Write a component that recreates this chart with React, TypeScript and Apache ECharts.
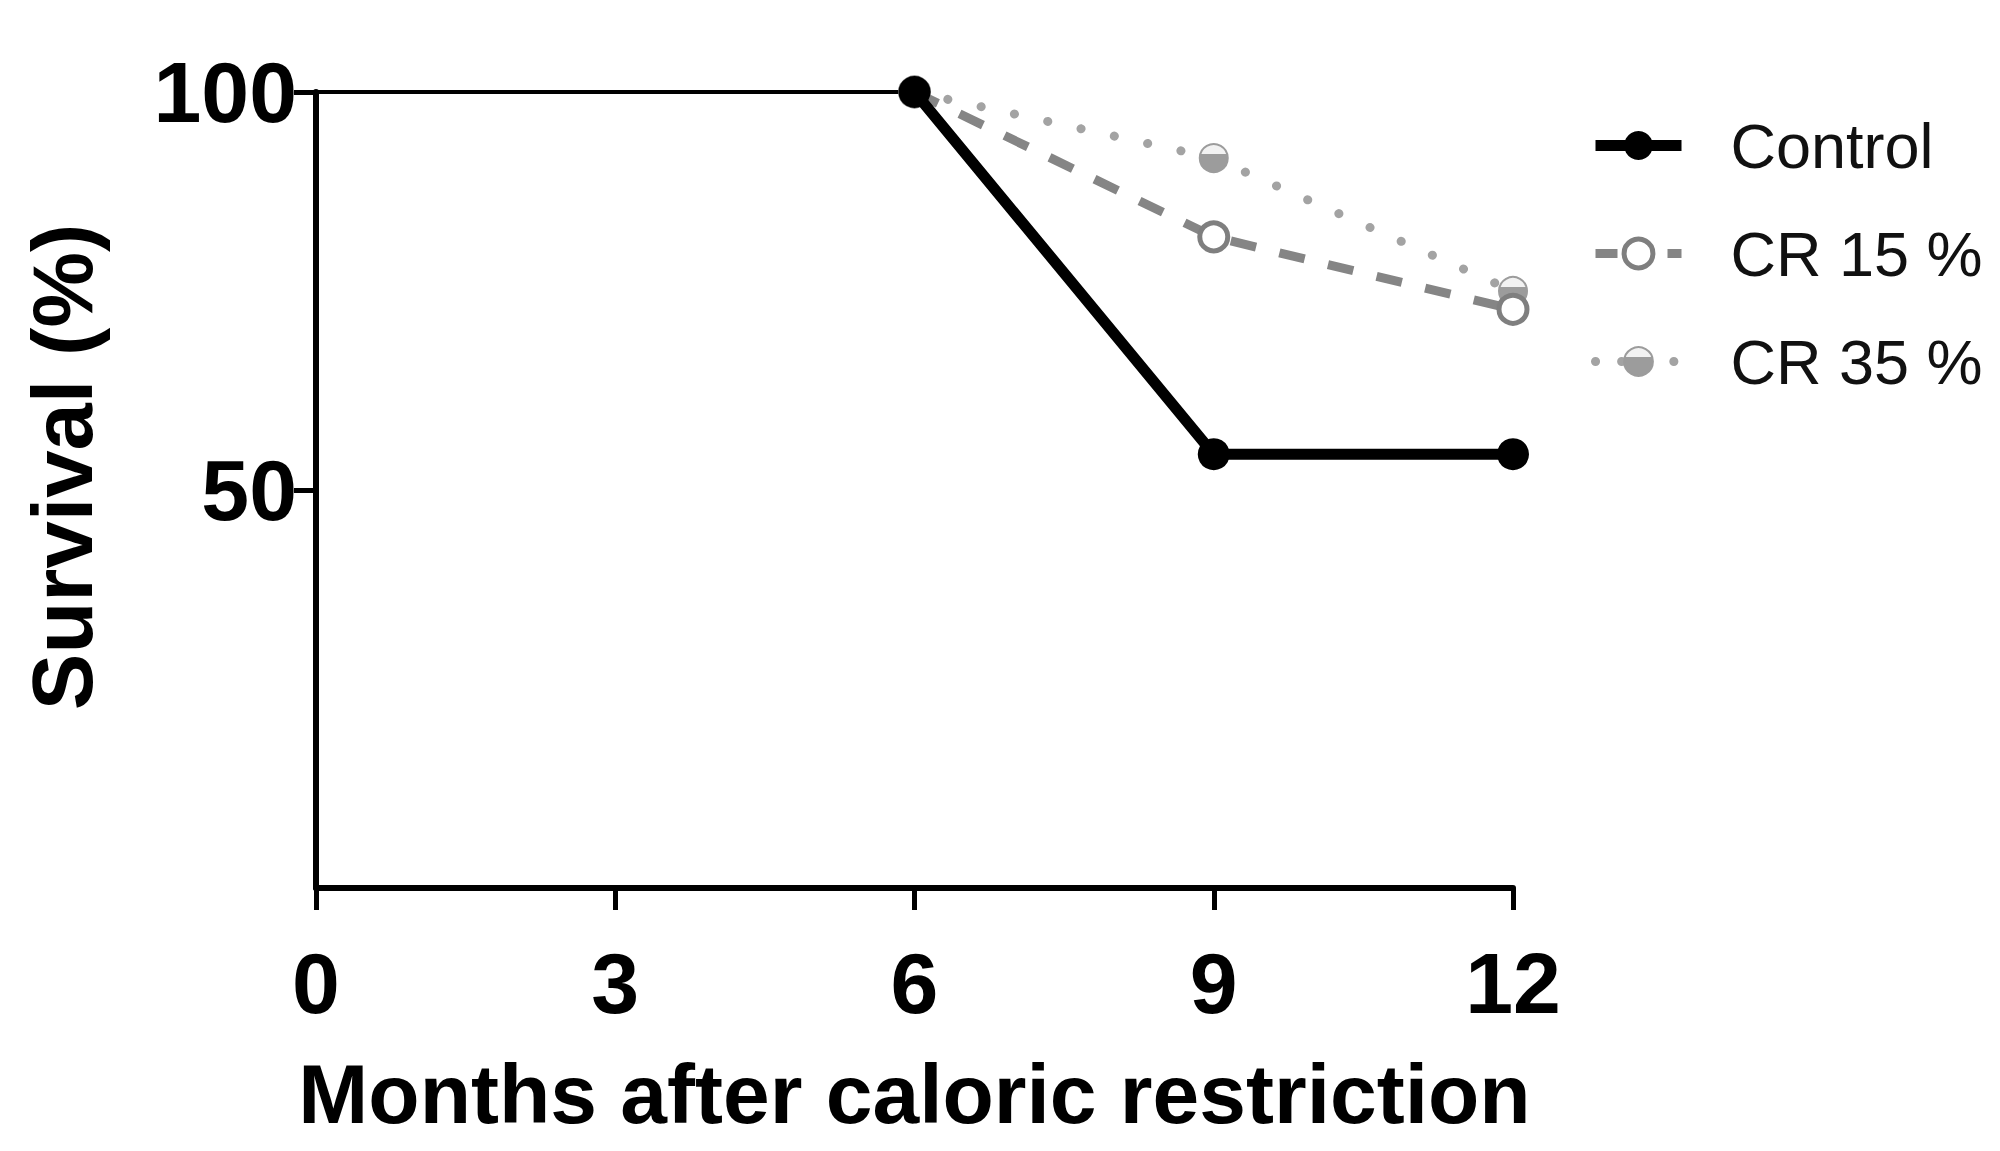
import React, { useEffect, useRef } from "react";
import * as echarts from "echarts";

const baselineMonths = [0, 6];
const baselineValues = [100, 100];
const months = [6, 9, 12];
const control = [100, 54.5, 54.5];
const cr15 = [100, 81.8, 72.7];
const cr35 = [100, 91.7, 75];
const seriesNames = ["Control", "CR 15 %", "CR 35 %"];
const xAxisName = "Months after caloric restriction";
const yAxisName = "Survival (%)";

const FONT = "'Liberation Sans', Arial, sans-serif";

const pair = (xs: number[], ys: number[]) => xs.map((x, i) => [x, ys[i]]);

export default function App() {
  const ref = useRef<HTMLDivElement>(null);
  useEffect(() => {
    if (!ref.current) return;
    const chart = echarts.init(ref.current, undefined, { renderer: "svg" });
    const cr35Fill = new echarts.graphic.LinearGradient(0, 0, 0, 1, [
      { offset: 0, color: "#f2f2f2" },
      { offset: 0.34, color: "#f2f2f2" },
      { offset: 0.36, color: "#9c9c9c" },
      { offset: 1, color: "#9c9c9c" },
    ]);
    const controlLine = { color: "#000", width: 11 };
    const cr15Line = { color: "#858585", width: 9, type: [26, 24] };
    const cr35Line = { color: "#a3a3a3", width: 9, type: [0.1, 34], cap: "round" };
    const controlItem = { color: "#000" };
    const cr15Item = { color: "#ffffff", borderColor: "#7f7f7f", borderWidth: 5 };
    const cr35Item = { color: cr35Fill, borderColor: "#9c9c9c", borderWidth: 2 };
    chart.setOption({
      animation: false,
      backgroundColor: "#ffffff",
      textStyle: { fontFamily: FONT },
      grid: { left: 316, right: 487, top: 92, bottom: 263, containLabel: false },
      legend: {
        data: [
          { name: seriesNames[0], itemStyle: controlItem, lineStyle: controlLine },
          { name: seriesNames[1], itemStyle: cr15Item, lineStyle: { ...cr15Line, type: [22, 14] } },
          { name: seriesNames[2], itemStyle: cr35Item, lineStyle: { ...cr35Line, type: [0.1, 26] } },
        ],
        orient: "vertical",
        left: 1585,
        top: 109,
        itemWidth: 86,
        itemHeight: 36,
        itemGap: 45,
        textStyle: { fontFamily: FONT, fontSize: 63, lineHeight: 63, color: "#111", padding: [0, 0, 0, 44] },
      },
      xAxis: {
        type: "value",
        min: 0,
        max: 12,
        interval: 3,
        name: xAxisName,
        nameLocation: "middle",
        nameGap: 163,
        nameTextStyle: { fontFamily: FONT, fontWeight: "bold", fontSize: 84, lineHeight: 86, color: "#000" },
        axisLine: { lineStyle: { color: "#000", width: 6 } },
        axisTick: { show: true, length: 22, lineStyle: { color: "#000", width: 5 } },
        axisLabel: { fontFamily: FONT, fontWeight: "bold", fontSize: 86, lineHeight: 86, color: "#000", margin: 52 },
        splitLine: { show: false },
      },
      yAxis: {
        type: "value",
        min: 0,
        max: 100,
        interval: 50,
        name: yAxisName,
        nameLocation: "middle",
        nameGap: 211,
        nameTextStyle: {
          fontFamily: FONT,
          fontWeight: "bold",
          fontSize: 85,
          lineHeight: 86,
          color: "#000",
          padding: [0, 0, 0, 46],
        },
        axisLine: { show: true, lineStyle: { color: "#000", width: 6 } },
        axisTick: { show: true, length: 22, lineStyle: { color: "#000", width: 5 } },
        axisLabel: { fontFamily: FONT, fontWeight: "bold", fontSize: 86, color: "#000", margin: 19, showMinLabel: false },
        splitLine: { show: false },
      },
      series: [
        {
          name: "baseline",
          type: "line",
          data: pair(baselineMonths, baselineValues),
          showSymbol: false,
          symbol: "none",
          lineStyle: { color: "#000", width: 4 },
          z: 1,
        },
        {
          name: seriesNames[2],
          type: "line",
          data: pair(months, cr35),
          symbol: "circle",
          symbolSize: 28,
          itemStyle: cr35Item,
          lineStyle: cr35Line,
          z: 2,
        },
        {
          name: seriesNames[1],
          type: "line",
          data: pair(months, cr15),
          symbol: "circle",
          symbolSize: 28,
          itemStyle: cr15Item,
          lineStyle: cr15Line,
          z: 3,
        },
        {
          name: seriesNames[0],
          type: "line",
          data: pair(months, control),
          symbol: "circle",
          symbolSize: 32,
          itemStyle: controlItem,
          lineStyle: controlLine,
          z: 4,
        },
      ],
    });
    return () => chart.dispose();
  }, []);
  return (
    <div
      ref={ref}
      style={{ position: "fixed", left: 0, top: 0, width: 2000, height: 1151, background: "#fff" }}
    />
  );
}
